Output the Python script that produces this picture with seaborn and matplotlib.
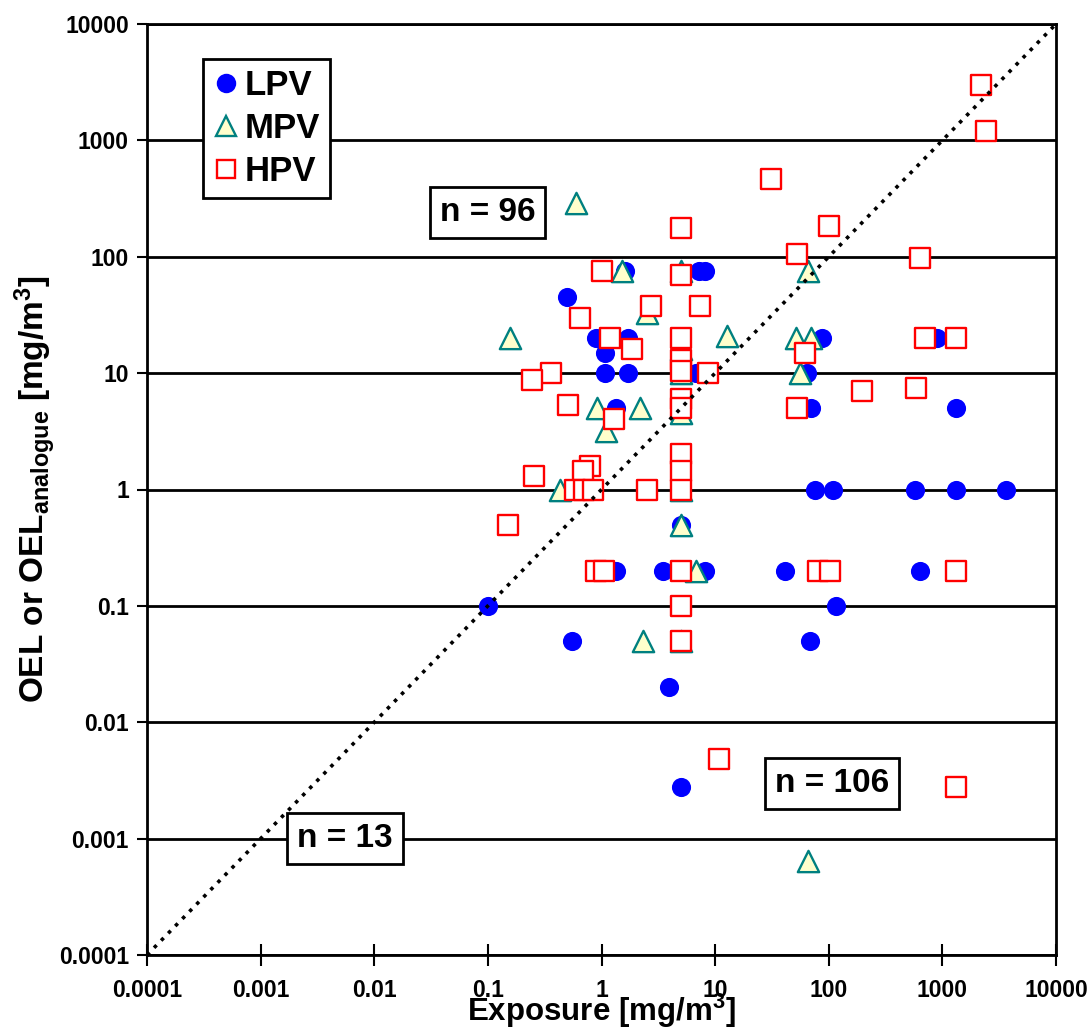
import numpy as np
import pandas as pd
import matplotlib
matplotlib.use("Agg")
import matplotlib.pyplot as plt
from matplotlib.lines import Line2D
import seaborn as sns

# Exposure [mg/m3] and OEL [mg/m3] per production volume class
lpv_exposure = [0.1, 0.5, 0.55, 0.9, 1.08, 1.08, 1.35, 1.7, 1.7, 1.33, 1.6, 7.2, 8.2,
                3.5, 8.2, 5, 3.9, 5, 6.8, 88, 900, 65, 70, 1330, 75, 108, 570, 1330,
                3600, 41, 630, 115, 69]
lpv_oel = [0.1, 45, 0.05, 20, 15, 10, 5, 10, 20, 0.2, 75, 75, 75,
           0.2, 0.2, 0.5, 0.02, 0.0028, 10, 20, 20, 10, 5, 5, 1, 1, 1, 1,
           1, 0.2, 0.2, 0.1, 0.05]

mpv_exposure = [0.6, 0.158, 1.5, 5, 2.5, 12.6, 5, 5, 0.92, 2.2, 1.1, 5, 0.43, 5,
                6.85, 2.3, 66, 5, 66, 52, 70, 56, 5]
mpv_oel = [290, 20, 75, 75, 33, 21, 16, 10, 5, 5, 3.2, 4.5, 1, 0.5,
           0.2, 0.05, 0.00064, 0.05, 75, 20, 20, 10, 1]

hpv_exposure = [2200, 2400, 31, 5, 100, 53, 640, 62, 700, 1330, 195, 590, 53, 80,
                102, 1330, 10.9, 1330, 1.0, 5, 2.75, 7.4, 0.65, 1.18, 5, 1.84, 5, 5,
                5, 5, 8.6, 0.356, 0.247, 0.512, 1.3, 5, 5, 0.255, 0.8, 0.69, 0.58,
                0.7, 0.85, 2.5, 5, 0.149, 0.9, 1.05, 5, 5, 5]
hpv_oel = [3000, 1200, 470, 175, 182, 106, 97, 15, 20, 20, 7, 7.4, 5, 0.2,
           0.2, 0.2, 0.0048, 0.0028, 75, 70, 38, 38, 30, 20, 20, 16, 13, 10.5,
           6, 5, 10, 10, 8.8, 5.3, 4.0, 2, 1.45, 1.3, 1.6, 1.45, 1,
           1, 1, 1, 1, 0.5, 0.2, 0.2, 0.2, 0.1, 0.05]

decades = [0.0001, 0.001, 0.01, 0.1, 1, 10, 100, 1000, 10000]
decade_labels = ["0.0001", "0.001", "0.01", "0.1", "1", "10", "100", "1000", "10000"]

counts = [("n = 96", 0.099, 240), ("n = 106", 106, 0.003), ("n = 13", 0.0055, 0.001)]

sns.set_theme(style="white")
plt.rcParams["font.family"] = ["Liberation Sans", "DejaVu Sans"]
plt.rcParams["font.weight"] = "bold"
plt.rcParams["text.color"] = "black"
plt.rcParams["axes.labelcolor"] = "black"
plt.rcParams["xtick.color"] = "black"
plt.rcParams["ytick.color"] = "black"
plt.rcParams["mathtext.fontset"] = "custom"
plt.rcParams["mathtext.rm"] = "Liberation Sans:bold"
plt.rcParams["mathtext.bf"] = "Liberation Sans:bold"
plt.rcParams["mathtext.it"] = "Liberation Sans:bold"
plt.rcParams["mathtext.default"] = "bf"

fig = plt.figure(figsize=(10.92, 10.31), dpi=100)
ax = fig.add_axes([147 / 1092, 1 - 955 / 1031, 909 / 1092, 931 / 1031])

lpv = pd.DataFrame({"x": lpv_exposure, "y": lpv_oel})
mpv = pd.DataFrame({"x": mpv_exposure, "y": mpv_oel})
hpv = pd.DataFrame({"x": hpv_exposure, "y": hpv_oel})

sns.scatterplot(data=lpv, x="x", y="y", ax=ax, marker="o", s=190,
                color="#0000FF", edgecolor="#0000FF", linewidth=0, zorder=3, legend=False)
sns.scatterplot(data=mpv, x="x", y="y", ax=ax, marker="^", s=235,
                color="#FFFFCC", edgecolor="#008080", linewidth=1.7, zorder=4, legend=False)
sns.scatterplot(data=hpv, x="x", y="y", ax=ax, marker="s", s=200,
                color="white", edgecolor="#FF0000", linewidth=1.7, zorder=5, legend=False)

# 1:1 line
ax.plot([decades[0], decades[-1]], [decades[0], decades[-1]], color="black",
        lw=2.6, ls=(0, (1, 1.8)), zorder=6)

ax.set_xscale("log")
ax.set_yscale("log")
ax.set_xlim(decades[0], decades[-1])
ax.set_ylim(decades[0], decades[-1])
ax.set_xticks(decades)
ax.set_xticklabels(decade_labels)
ax.set_yticks(decades)
ax.set_yticklabels(decade_labels)
ax.minorticks_off()

ax.yaxis.grid(True, color="black", lw=2)
ax.xaxis.grid(False)
ax.set_axisbelow(True)
for sp in ax.spines.values():
    sp.set_color("black")
    sp.set_linewidth(2)

ax.tick_params(axis="x", direction="inout", length=16, width=1.5, color="black",
               labelsize=16.5, pad=9, bottom=True)
ax.tick_params(axis="y", direction="out", length=7, width=1.5, color="black",
               labelsize=16.5, pad=6, left=True)
for lab in ax.get_xticklabels() + ax.get_yticklabels():
    lab.set_fontweight("bold")

ax.set_xlabel("Exposure [mg/m$^{3}$]", fontsize=22.5, fontweight="bold", va="bottom")
ax.set_ylabel("OEL or OEL$_{analogue}$ [mg/m$^{3}$]", fontsize=24, fontweight="bold")
ax.xaxis.set_label_coords(0.5, (955 - 1030) / 931)
ax.yaxis.set_label_coords(-0.098, 0.5)

for txt, tx, ty in counts:
    ax.text(tx, ty, txt, fontsize=24, fontweight="bold", ha="center", va="center",
            zorder=8, bbox=dict(boxstyle="square,pad=0.3", fc="white", ec="black", lw=2))

handles = [
    Line2D([], [], ls="", marker="o", ms=14, mfc="#0000FF", mec="#0000FF", mew=0),
    Line2D([], [], ls="", marker="^", ms=14, mfc="#FFFFCC", mec="#008080", mew=1.7),
    Line2D([], [], ls="", marker="s", ms=13, mfc="white", mec="#FF0000", mew=1.7),
]
leg = ax.legend(handles, ["LPV", "MPV", "HPV"], loc="upper left",
                bbox_to_anchor=((203 - 147) / 909, (955 - 59) / 931), borderaxespad=0,
                frameon=True, fancybox=False, framealpha=1, edgecolor="black",
                prop={"size": 25, "weight": "bold"}, handlelength=0.7,
                handletextpad=0.2, labelspacing=0.28, borderpad=0.3)
leg.get_frame().set_linewidth(2)
leg.set_zorder(9)

fig.savefig("out.png", dpi=100, facecolor="white")
